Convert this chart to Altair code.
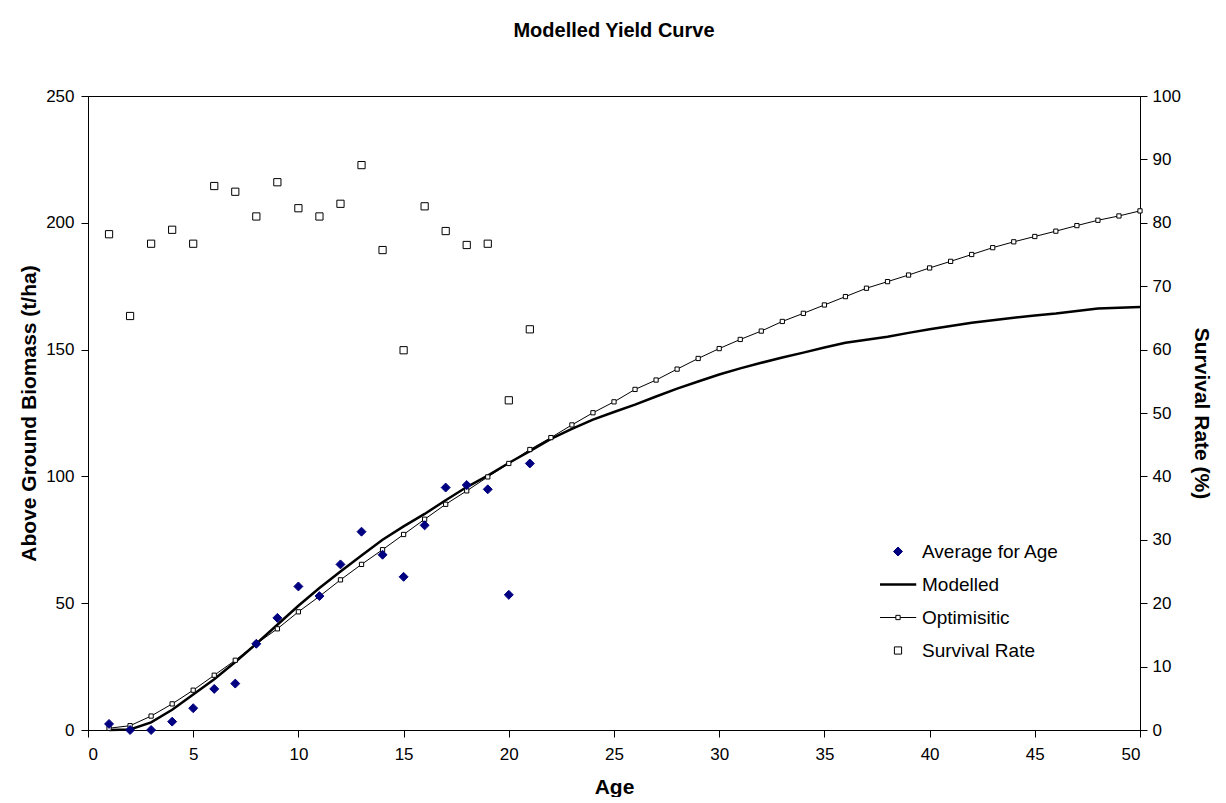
import altair as alt
import pandas as pd

FONT = "Liberation Sans"

ages_obs = list(range(1, 22))
average = [2.4, 0, 0, 3.3, 8.6, 16.2, 18.3, 34.0, 44.2, 56.6, 52.8, 65.3, 78.2, 69.1,
           60.4, 80.7, 95.6, 96.6, 94.9, 53.3, 105.1]
survival = [78.2, 65.3, 76.7, 78.9, 76.7, 85.8, 84.9, 81.0, 86.4, 82.3, 81.0, 83.0, 89.1,
            75.7, 59.9, 82.6, 78.7, 76.5, 76.7, 52.0, 63.2]
ages_model = list(range(1, 51))
modelled = [0, 0.2, 3.0, 8.0, 14.0, 20.0, 26.8, 34.0, 41.5, 49.0,
            56.0, 62.5, 68.8, 75.0, 80.3, 85.2, 90.6, 95.8, 100.3, 105.3,
            110.0, 114.8, 118.7, 122.4, 125.4, 128.3, 131.5, 134.6, 137.4, 140.2,
            142.6, 144.8, 146.9, 148.8, 150.8, 152.7, 153.9, 155.1, 156.6, 158.0,
            159.3, 160.6, 161.6, 162.6, 163.4, 164.2, 165.2, 166.2, 166.5, 166.8]
optimistic = [0.7, 1.7, 5.5, 10.3, 15.7, 21.6, 27.5, 34.0, 39.9, 46.6,
              52.7, 59.2, 65.3, 71.1, 77.1, 83.1, 89.0, 94.3, 99.8, 105.1,
              110.6, 115.3, 120.3, 125.1, 129.4, 134.3, 138.0, 142.3, 146.5, 150.4,
              154.0, 157.3, 161.1, 164.3, 167.6, 170.9, 174.2, 176.8, 179.4, 182.2,
              184.8, 187.5, 190.2, 192.5, 194.6, 196.7, 198.9, 201.0, 202.7, 204.7]

series_names = ["Average for Age", "Modelled", "Optimisitic", "Survival Rate"]

df_obs = pd.DataFrame({"age": ages_obs, "average": average, "survival": survival})
df_obs["s_avg"] = series_names[0]
df_obs["s_surv"] = series_names[3]
df_mod = pd.DataFrame({"age": ages_model, "modelled": modelled, "optimistic": optimistic})
df_mod["s_mod"] = series_names[1]
df_mod["s_opt"] = series_names[2]

NAVY = "#000080"
shape_scale = alt.Scale(domain=series_names, range=[
    "diamond",
    "M-1.1,0H1.1",
    "M-1.1,0H-0.13M0.13,0H1.1M-0.13,-0.13H0.13V0.13H-0.13Z",
    "square"])
fill_scale = alt.Scale(domain=series_names, range=[NAVY, "transparent", "white", "white"])
stroke_scale = alt.Scale(domain=series_names, range=[NAVY, "black", "black", "black"])
size_scale = alt.Scale(type="ordinal", domain=series_names, range=[80, 1100, 1100, 52])
sw_scale = alt.Scale(type="ordinal", domain=series_names, range=[1, 2.5, 1, 1])
leg = alt.Legend(title=None)

xenc = alt.X("age:Q", scale=alt.Scale(domain=[0, 50], nice=False),
             axis=alt.Axis(values=list(range(0, 51, 5)), title="Age", tickSize=7,
                           labelPadding=9, titlePadding=14))
left_axis = alt.Axis(values=list(range(0, 251, 50)), title="Above Ground Biomass (t/ha)",
                     tickSize=7, labelPadding=7, titlePadding=6)
yleft_scale = alt.Scale(domain=[0, 250], nice=False)

modelled_line = alt.Chart(df_mod).mark_line(color="black").encode(
    x=xenc,
    y=alt.Y("modelled:Q", scale=yleft_scale, axis=left_axis),
    stroke=alt.Stroke("s_mod:N", scale=stroke_scale, legend=leg),
    strokeWidth=alt.StrokeWidth("s_mod:N", scale=sw_scale, legend=leg),
)
opt_line = alt.Chart(df_mod).mark_line(color="black", strokeWidth=1).encode(
    x=xenc,
    y=alt.Y("optimistic:Q", scale=yleft_scale, axis=left_axis),
)
opt_pts = alt.Chart(df_mod).mark_point(shape="square", filled=True, fill="white",
                                       stroke="black", strokeWidth=1, size=18,
                                       opacity=1).encode(
    x=xenc,
    y=alt.Y("optimistic:Q", scale=yleft_scale, axis=left_axis),
)
avg_pts = alt.Chart(df_obs).mark_point(filled=True, strokeWidth=1, opacity=1).encode(
    x=xenc,
    y=alt.Y("average:Q", scale=yleft_scale, axis=left_axis),
    shape=alt.Shape("s_avg:N", scale=shape_scale, legend=leg),
    fill=alt.Fill("s_avg:N", scale=fill_scale, legend=leg),
    stroke=alt.Stroke("s_avg:N", scale=stroke_scale, legend=leg),
    size=alt.Size("s_avg:N", scale=size_scale, legend=leg),
)
left = alt.layer(modelled_line, opt_line, opt_pts, avg_pts)

surv_pts = alt.Chart(df_obs).mark_point(filled=True, strokeWidth=1, opacity=1).encode(
    x=xenc,
    y=alt.Y("survival:Q", scale=alt.Scale(domain=[0, 100], nice=False),
            axis=alt.Axis(orient="right", values=list(range(0, 101, 10)),
                          title="Survival Rate (%)", tickSize=7, labelPadding=5,
                          titlePadding=10)),
    shape=alt.Shape("s_surv:N", scale=shape_scale, legend=leg),
    fill=alt.Fill("s_surv:N", scale=fill_scale, legend=leg),
    stroke=alt.Stroke("s_surv:N", scale=stroke_scale, legend=leg),
    size=alt.Size("s_surv:N", scale=size_scale, legend=leg),
)

chart = alt.layer(left, surv_pts).resolve_scale(y="independent").properties(
    width=1052, height=634,
    autosize="none",
    padding={"left": 80, "top": 88, "right": 78, "bottom": 67},
    title=alt.TitleParams("Modelled Yield Curve", fontSize=20, font=FONT,
                          fontWeight="bold", color="black", offset=46, anchor="middle"),
).configure_view(stroke="black", strokeWidth=1).configure_axis(
    labelFont=FONT, labelFontSize=17, labelColor="black",
    titleFont=FONT, titleFontSize=21, titleFontWeight="bold", titleColor="black",
    domainColor="black", tickColor="black", grid=False,
).configure_legend(
    orient="none", legendX=792, legendY=445, labelFont=FONT, labelFontSize=19,
    labelColor="black", labelOffset=6, rowPadding=12, clipHeight=21,
    symbolStrokeWidth=1,
)

chart.save("out.html", embed_options={"renderer": "svg", "actions": False})
